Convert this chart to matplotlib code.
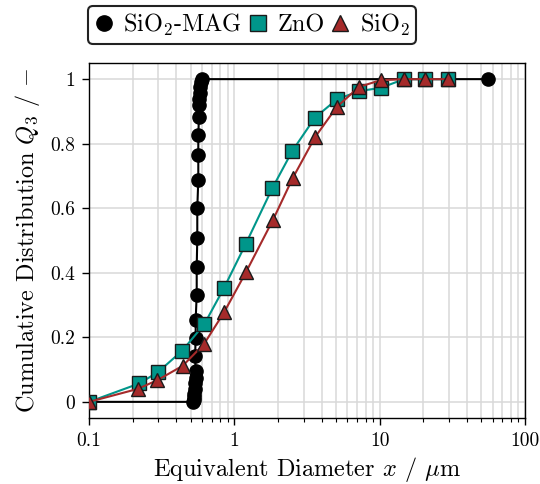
import matplotlib
matplotlib.use("Agg")
import matplotlib.pyplot as plt
from matplotlib.lines import Line2D
from matplotlib.ticker import FixedLocator, FuncFormatter, LogLocator, NullFormatter

plt.rcParams['font.family'] = 'serif'
plt.rcParams['font.serif'] = ['cmr10']
plt.rcParams['mathtext.fontset'] = 'cm'
plt.rcParams['axes.formatter.use_mathtext'] = True

# SiO2-MAG (black circles)
x_mag = [0.1, 0.522, 0.524, 0.527, 0.530, 0.534, 0.538, 0.542, 0.542, 0.537,
         0.542, 0.542, 0.551, 0.551, 0.556, 0.556, 0.565, 0.565, 0.565, 0.571,
         0.571, 0.574, 0.578, 0.581, 0.587, 0.597, 55.7]
q_mag = [0.0, 0.0, 0.006, 0.014, 0.025, 0.04, 0.058, 0.075, 0.095, 0.141,
         0.199, 0.255, 0.332, 0.418, 0.507, 0.600, 0.688, 0.765, 0.827, 0.883,
         0.920, 0.940, 0.956, 0.976, 0.990, 1.0, 1.0]

# ZnO (teal squares)
x_zno = [0.1, 0.222, 0.30, 0.439, 0.622, 0.849, 1.2, 1.83, 2.51, 3.59,
         5.07, 7.22, 10.2, 14.7, 20.5, 29.7]
q_zno = [0.0, 0.057, 0.093, 0.159, 0.241, 0.353, 0.49, 0.663, 0.778, 0.881,
         0.937, 0.963, 0.973, 1.0, 1.0, 1.0]

# SiO2 (red triangles)
x_sio2 = [0.1, 0.216, 0.295, 0.442, 0.618, 0.849, 1.2, 1.85, 2.52, 3.59,
          5.07, 7.22, 10.2, 14.7, 20.5, 29.7]
q_sio2 = [0.0, 0.040, 0.067, 0.112, 0.179, 0.277, 0.401, 0.565, 0.693, 0.820,
          0.914, 0.976, 0.997, 1.0, 1.0, 1.0]

c_zno = '#00968A'
c_sio2 = '#A52A2A'
ms = 9.5

fig = plt.figure(figsize=(5.4, 4.84), dpi=100)
ax = fig.add_axes([89/540, 66/484, 436/540, 355/484])

ax.plot(x_mag, q_mag, color='black', lw=1.5, marker='o', ms=ms,
        mfc='black', mec='black', zorder=3)
ax.plot(x_zno, q_zno, color=c_zno, lw=1.5, marker='s', ms=ms,
        mfc=c_zno, mec='#1a1a1a', mew=1.0, zorder=4)
ax.plot(x_sio2, q_sio2, color=c_sio2, lw=1.5, marker='^', ms=ms,
        mfc=c_sio2, mec='#1a1a1a', mew=1.0, zorder=5)

ax.set_xscale('log')
ax.set_xlim(0.1, 100)
ax.set_ylim(-0.05, 1.05)

ax.xaxis.set_major_locator(FixedLocator([0.1, 1, 10, 100]))
ax.xaxis.set_major_formatter(FuncFormatter(lambda v, p: '{:g}'.format(v)))
ax.xaxis.set_minor_locator(LogLocator(base=10, subs=range(2, 10)))
ax.xaxis.set_minor_formatter(NullFormatter())
ax.yaxis.set_major_locator(FixedLocator([0, 0.2, 0.4, 0.6, 0.8, 1.0]))
ax.yaxis.set_major_formatter(FuncFormatter(lambda v, p: '{:g}'.format(round(v, 2))))

ax.grid(True, which='major', color='#d9d9d9', lw=1.1, zorder=0)
ax.grid(True, which='minor', axis='x', color='#d9d9d9', lw=1.1, zorder=0)
ax.set_axisbelow(True)

ax.tick_params(which='major', direction='out', length=5, width=1, labelsize=14, pad=5)
ax.tick_params(which='minor', direction='out', length=3, width=0.8)
for s in ax.spines.values():
    s.set_linewidth(1.0)

ax.set_xlabel(r'Equivalent Diameter $x$ / $\mu$m', fontsize=17.5, labelpad=4)
ax.set_ylabel(r'Cumulative Distribution $Q_3$ / $-$', fontsize=17.5, labelpad=6)

handles = [
    Line2D([], [], ls='none', marker='o', ms=11, mfc='black', mec='black'),
    Line2D([], [], ls='none', marker='s', ms=11, mfc=c_zno, mec='#1a1a1a'),
    Line2D([], [], ls='none', marker='^', ms=11, mfc=c_sio2, mec='#1a1a1a'),
]
labels = [r'SiO$_2$-MAG', 'ZnO', r'SiO$_2$']
leg = fig.legend(handles, labels, ncol=3, loc='lower left',
                 bbox_to_anchor=(88/540, 1 - 44/484), bbox_transform=fig.transFigure,
                 borderaxespad=0, fontsize=17.5, handlelength=0.8, handletextpad=0.4,
                 columnspacing=0.25, borderpad=0.25, fancybox=True, framealpha=1,
                 edgecolor='#222222')
leg.get_frame().set_linewidth(1.5)

fig.savefig('out.png', dpi=100)
